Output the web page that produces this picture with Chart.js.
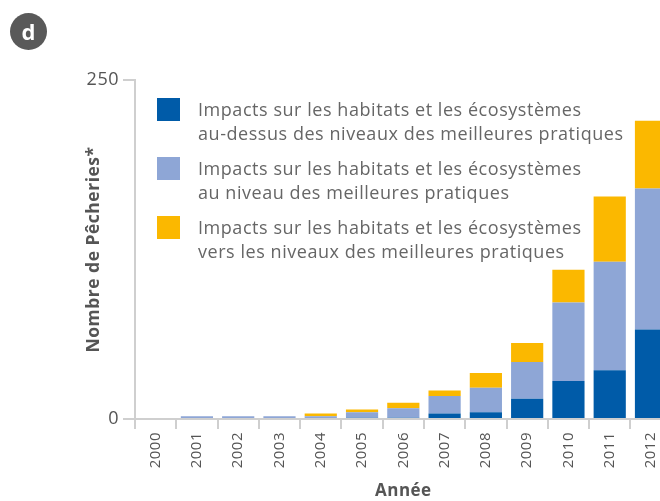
<!DOCTYPE html>
<html><head><meta charset="utf-8">
<script src="https://cdn.jsdelivr.net/npm/chart.js@4"></script>
<style>
html,body{margin:0;padding:0;width:660px;height:501px;overflow:hidden;background:#fff;font-family:"Open Sans",sans-serif}
#wrap{position:relative;width:660px;height:501px;overflow:hidden}
#c{position:absolute;left:0;top:0}
#badge{position:absolute;left:10px;top:13px;width:37px;height:37px;border-radius:50%;background:#595959;color:#fff;font:bold 22px "Open Sans",sans-serif;text-align:center;line-height:36px}
#legend{position:absolute;left:157px;top:98px}
.item{position:relative;height:59px}
.sw{position:absolute;left:0;top:0;width:23px;height:23px}
.txt{position:absolute;left:41px;top:-1px;font-size:18px;line-height:24px;letter-spacing:0.55px;color:#666;white-space:nowrap}
</style></head>
<body><div id="wrap">
<canvas id="c" width="672" height="501" style="width:672px;height:501px"></canvas>
<div id="badge">d</div>
<div id="legend"></div>
</div>
<script>
const years = ['2000','2001','2002','2003','2004','2005','2006','2007','2008','2009','2010','2011','2012'];
const aboveBest = [0,0,0,0,0,1,1,4,5,15,28,36,66];
const atBest    = [0,2,2,2,2,4,7,13,18,27,58,80,104];
const towardBest= [0,0,0,0,2,2,4,4,11,14,24,48,50];
const seriesNames = [
  ['Impacts sur les habitats et les écosystèmes','au-dessus des niveaux des meilleures pratiques'],
  ['Impacts sur les habitats et les écosystèmes','au niveau des meilleures pratiques'],
  ['Impacts sur les habitats et les écosystèmes','vers les niveaux des meilleures pratiques']
];
const seriesColors = ['#005BA8','#8EA6D6','#FBB800'];
const yTicks = [0,250];
const xTitle = 'Année';
const yTitle = 'Nombre de Pêcheries*';

const values = [aboveBest, atBest, towardBest];
const leg = document.getElementById('legend');
seriesNames.forEach((n,i)=>{
  const it=document.createElement('div');it.className='item';
  const sw=document.createElement('div');sw.className='sw';sw.style.background=seriesColors[i];
  const tx=document.createElement('div');tx.className='txt';tx.innerHTML=n.join('<br>');
  it.appendChild(sw);it.appendChild(tx);leg.appendChild(it);
});

function setSpacing(chart){ try{chart.ctx.letterSpacing='0.5px';}catch(e){} }
const spacing = {id:'spacing', afterInit:setSpacing, beforeUpdate:setSpacing, beforeLayout:setSpacing, beforeDraw:setSpacing};

const gridCol = '#cfcfcf';
new Chart(document.getElementById('c'), {
  type:'bar',
  data:{
    labels: years,
    datasets: values.map((v,i)=>({
      label: seriesNames[i].join(' '),
      data: v,
      backgroundColor: seriesColors[i],
      borderWidth: 0,
      barPercentage: 0.78,
      categoryPercentage: 1
    }))
  },
  plugins:[spacing],
  options:{
    responsive:false,
    animation:false,
    layout:{padding:{top:80,right:0,bottom:0,left:0}},
    plugins:{legend:{display:false},tooltip:{enabled:false}},
    scales:{
      x:{
        stacked:true,
        grid:{offset:true,drawOnChartArea:false,drawTicks:true,tickLength:10,color:gridCol,lineWidth:2},
        border:{color:gridCol,width:2},
        ticks:{minRotation:90,maxRotation:90,padding:3,color:'#555',font:{family:'Open Sans',size:15}},
        title:{display:true,text:xTitle,color:'#555',font:{family:'Open Sans',size:17,weight:'bold'},padding:{top:0,bottom:0}},
        afterFit:(s)=>{s.height=82;}
      },
      y:{
        stacked:true,
        min:0,max:250,
        afterBuildTicks:(s)=>{s.ticks=yTicks.map(v=>({value:v}));},
        grid:{drawOnChartArea:false,drawTicks:true,tickLength:12,color:gridCol,lineWidth:2},
        border:{color:gridCol,width:2},
        ticks:{padding:4,color:'#555',font:{family:'Open Sans',size:18}},
        title:{display:true,text:yTitle,color:'#555',font:{family:'Open Sans',size:17.5,weight:'bold'},padding:{top:84,bottom:0}},
        afterFit:(s)=>{s.width=135;}
      }
    }
  }
});
</script>
</body></html>
